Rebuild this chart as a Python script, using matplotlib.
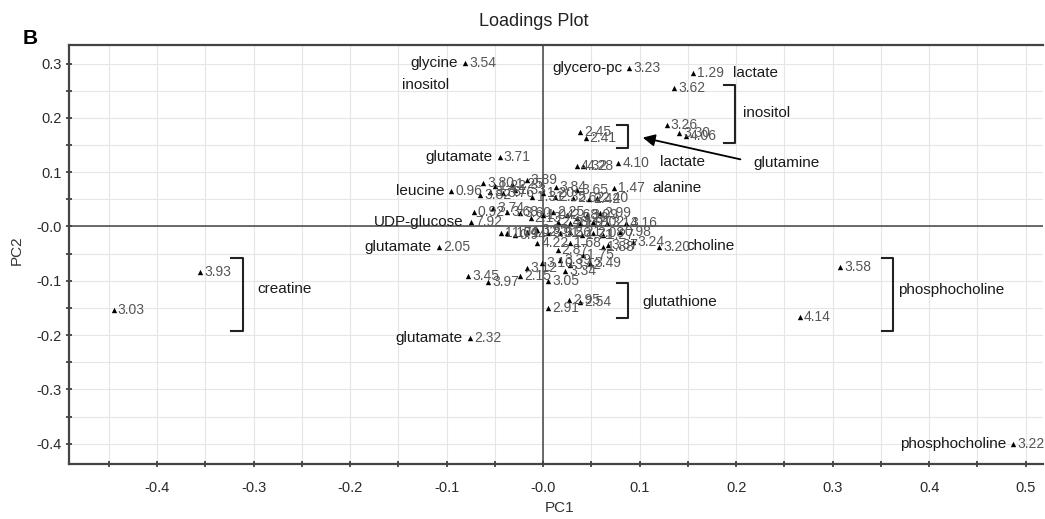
import matplotlib
matplotlib.use('Agg')
import matplotlib.pyplot as plt
from matplotlib.ticker import MultipleLocator, FixedLocator, FixedFormatter

plt.rcParams['font.family'] = ['Liberation Sans', 'DejaVu Sans']

# chemical-shift labels and PC loadings
shifts = ['3.03', '3.93', '3.58', '4.14', '3.22', '3.54', '3.23', '1.29', '3.62', '3.26',
          '3.30', '4.06', '2.45', '2.41', '4.32', '4.28', '4.10', '3.71', '0.96', '7.92',
          '1.47', '3.89', '3.80', '3.84', '3.65', '2.40', '3.16', '2.05', '2.32', '3.45',
          '3.97', '2.15', '3.05', '2.91', '2.95', '2.54', '3.24', '3.20', '3.37', '1.75',
          '2.87', '4.22', '0.98', '3.49', '3.39', '3.34', '3.12', '0.92',
          '3.78', '3.76', '1.33', '1.31', '1.20', '2.35', '2.62', '2.42', '3.82', '3.74',
          '3.68', '3.60', '2.13', '1.04', '2.25', '2.68', '3.28', '3.09', '2.99', '2.48',
          '2.11', '1.91', '2.02', '3.14', '1.01', '0.94', '4.02', '3.95', '3.91', '3.56',
          '2.21', '1.71', '2.08', '1.27', '1.68', '1.88', '3.10', '3.42', '1.17', '1.22',
          '1.25']
pc1 = [-0.445, -0.355, 0.308, 0.266, 0.487, -0.081, 0.089, 0.155, 0.136, 0.128,
       0.141, 0.148, 0.038, 0.044, 0.035, 0.041, 0.078, -0.045, -0.095, -0.075,
       0.073, -0.017, -0.062, 0.013, 0.035, 0.056, 0.086, -0.108, -0.076, -0.078,
       -0.057, -0.024, 0.005, 0.005, 0.027, 0.038, 0.093, 0.120, 0.067, 0.041,
       0.015, -0.006, 0.080, 0.049, 0.018, 0.023, -0.017, -0.072,
       -0.055, -0.041, -0.029, -0.011, 0.000, 0.012, 0.031, 0.048, -0.065, -0.052,
       -0.037, -0.024, -0.013, 0.000, 0.010, 0.025, 0.035, 0.046, 0.059, 0.015,
       0.028, 0.038, 0.052, 0.066, -0.037, -0.029, -0.017, -0.006, 0.005, 0.018,
       0.028, 0.040, 0.052, 0.062, 0.028, 0.062, -0.001, 0.028, -0.044, -0.050,
       -0.032]
pc2 = [-0.154, -0.084, -0.075, -0.167, -0.401, 0.301, 0.292, 0.283, 0.255, 0.187,
       0.172, 0.167, 0.174, 0.163, 0.111, 0.111, 0.117, 0.128, 0.065, 0.008,
       0.071, 0.086, 0.080, 0.073, 0.067, 0.052, 0.006, -0.038, -0.206, -0.091,
       -0.102, -0.091, -0.100, -0.150, -0.135, -0.139, -0.029, -0.038, -0.034, -0.053,
       -0.043, -0.030, -0.010, -0.067, -0.062, -0.082, -0.077, 0.027,
       0.064, 0.062, 0.067, 0.054, 0.062, 0.054, 0.052, 0.050, 0.058, 0.034,
       0.027, 0.025, 0.016, 0.021, 0.027, 0.021, 0.016, 0.021, 0.025, 0.008,
       0.006, 0.006, 0.008, 0.006, -0.012, -0.016, -0.010, -0.006, -0.012, -0.012,
       -0.010, -0.016, -0.012, -0.016, -0.030, -0.038, -0.067, -0.071, -0.012, 0.075,
       0.078]

# metabolite names written just left of a point
left_names = {'3.54': 'glycine', '3.23': 'glycero-pc', '3.71': 'glutamate', '0.96': 'leucine',
              '7.92': 'UDP-glucose', '2.05': 'glutamate', '2.32': 'glutamate',
              '3.22': 'phosphocholine'}

xticks = [-0.4, -0.3, -0.2, -0.1, 0.0, 0.1, 0.2, 0.3, 0.4, 0.5]
xticklabels = ['-0.4', '-0.3', '-0.2', '-0.1', '-0.0', '0.1', '0.2', '0.3', '0.4', '0.5']
yticks = [-0.4, -0.3, -0.2, -0.1, 0.0, 0.1, 0.2, 0.3]
yticklabels = ['-0.4', '-0.3', '-0.2', '-0.1', '-0.0', '0.1', '0.2', '0.3']

W, H = 1045, 519
fig = plt.figure(figsize=(W / 100, H / 100), dpi=100)
ax = fig.add_axes([69 / W, (H - 464) / H, (1043 - 69) / W, (464 - 45) / H])
ax.set_xlim(-0.4912, 0.518)
ax.set_ylim(-0.4374, 0.3342)

ax.xaxis.set_major_locator(FixedLocator(xticks))
ax.xaxis.set_major_formatter(FixedFormatter(xticklabels))
ax.yaxis.set_major_locator(FixedLocator(yticks))
ax.yaxis.set_major_formatter(FixedFormatter(yticklabels))
ax.xaxis.set_minor_locator(MultipleLocator(0.05))
ax.yaxis.set_minor_locator(MultipleLocator(0.05))
ax.grid(which='both', color='#e6e6e6', lw=0.8, zorder=0)
ax.set_axisbelow(True)
ax.tick_params(which='both', direction='inout', length=5, width=1.2, color='#333333')
ax.tick_params(axis='x', which='major', pad=10, labelsize=10.5, labelcolor='#2a2a2a')
ax.tick_params(axis='y', which='major', pad=3, labelsize=10.5, labelcolor='#2a2a2a')

for s in ['left', 'bottom', 'top']:
    ax.spines[s].set_color('#444444')
    ax.spines[s].set_linewidth(1.6)
ax.spines['right'].set_visible(False)

ax.axhline(0, color='#444444', lw=1.1, zorder=1)
ax.axvline(0, color='#444444', lw=1.1, zorder=1)

ax.scatter(pc1, pc2, marker='^', s=15, c='black', linewidths=0, zorder=3)
for lab, x, y in zip(shifts, pc1, pc2):
    ax.annotate(lab, (x, y), xytext=(3, 0), textcoords='offset points',
                ha='left', va='center', fontsize=10, color='#555555', zorder=4)
    if lab in left_names:
        ax.annotate(left_names[lab], (x, y), xytext=(-5, 0), textcoords='offset points',
                    ha='right', va='center', fontsize=11, color='#1a1a1a', zorder=4)


# brackets grouping peaks of one metabolite
def bracket(x, y0, y1, w=0.012):
    ax.plot([x - w, x, x, x - w], [y1, y1, y0, y0], color='#222222', lw=1.5, zorder=3)


bracket(-0.311, -0.1924, -0.058)
bracket(0.3627, -0.1924, -0.058)
bracket(0.199, 0.1538, 0.2606)
bracket(0.0881, 0.1446, 0.187, 0.011)
bracket(0.0881, -0.1685, -0.104, 0.011)

name_kw = dict(fontsize=11, color='#1a1a1a', va='center', ha='left')
ax.text(-0.146, 0.2606, 'inositol', **name_kw)
ax.text(0.197, 0.283, 'lactate', **name_kw)
ax.text(0.207, 0.209, 'inositol', **name_kw)
ax.text(0.121, 0.119, 'lactate', **name_kw)
ax.text(0.113, 0.071, 'alanine', **name_kw)
ax.text(0.149, -0.036, 'choline', **name_kw)
ax.text(0.1026, -0.139, 'glutathione', **name_kw)
ax.text(-0.2964, -0.115, 'creatine', **name_kw)
ax.text(0.368, -0.117, 'phosphocholine', **name_kw)
ax.text(0.2176, 0.117, 'glutamine', **name_kw)
ax.annotate('', xy=(0.1005, 0.1648), xytext=(0.2073, 0.1225),
            arrowprops=dict(arrowstyle='-|>', mutation_scale=18, lw=1.3, color='black'))

fig.text(534 / W, 1 - 22 / H, 'Loadings Plot', ha='center', va='center', fontsize=13,
         color='#222222')
fig.text(30 / W, 1 - 38 / H, 'B', ha='center', va='center', fontsize=15, weight='bold')
fig.text(560 / W, 1 - 508 / H, 'PC1', ha='center', va='center', fontsize=11, color='#333333')
fig.text(17 / W, 1 - 250 / H, 'PC2', ha='center', va='center', fontsize=11, color='#333333',
         rotation=90)

fig.savefig('out.png', dpi=100)
